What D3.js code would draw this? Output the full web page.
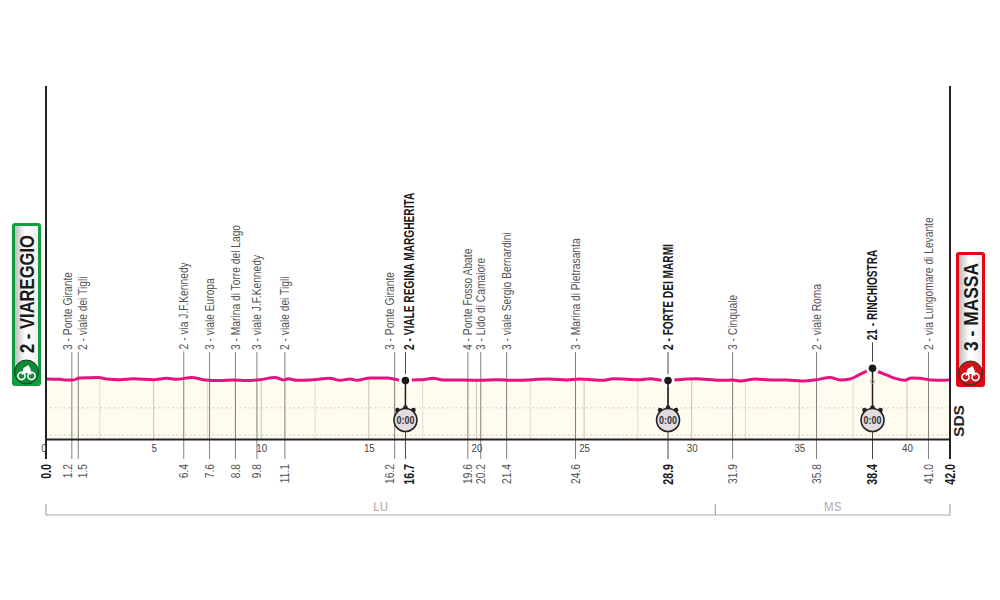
<!DOCTYPE html>
<html>
<head>
<meta charset="utf-8">
<script src="https://cdn.jsdelivr.net/npm/d3@7"></script>
<style>
  html, body { margin: 0; background: #fff; }
  svg { display: block; }
  text { font-family: "Liberation Sans Narrow", "Liberation Sans", sans-serif; }
  .place { fill: #555; font-size: 13.5px; }
  .place.main { fill: #1a1a1a; font-size: 14px; font-weight: bold; }
</style>
</head>
<body>
<svg id="chart"></svg>
<script>
// profile
const profileKm = [0, 0.65, 0.96, 1.27, 1.55, 2.43, 2.82, 3.44, 4.05, 4.98, 5.6, 6.07, 6.77, 7.3, 8.08, 8.7, 9.32, 9.94, 10.64, 11.03, 11.25, 11.65, 12.26, 13.2, 13.66, 14.13, 14.44, 15.05, 15.84, 16.37, 16.7, 17, 17.5, 18, 18.45, 19.37, 20.17, 20.95, 21.7, 22.6, 23.33, 24.2, 24.8, 25.9, 26.35, 27.6, 28.07, 28.6, 28.9, 29.2, 30.2, 31.3, 31.9, 32.25, 32.95, 33.64, 34.4, 35.1, 35.8, 36.43, 36.9, 37.4, 37.7, 38.15, 38.4, 38.6, 39.1, 39.5, 39.9, 40.2, 40.6, 41.1, 41.7, 42];
const profileElev = [4.5, 4, 3, 3, 6, 7, 4.5, 3.5, 5, 3.5, 5.6, 4, 7, 3.5, 2, 3, 2, 3.5, 7, 3, 5, 2.5, 3, 5.5, 2.5, 4.5, 2.5, 6, 6, 3, 2, 3, 3.5, 5.5, 3, 3, 2.5, 3.5, 2.5, 3.5, 4.5, 3, 4.5, 2.5, 5, 3.5, 5, 2.5, 2, 3, 5, 2.5, 3, 1.5, 4.5, 3, 3, 1.5, 3.5, 7, 3, 5, 9.7, 17, 21, 17, 10, 5, 2.5, 6, 5.5, 3, 2.5, 3.5];

// places along the route
const placeKm = [1.2, 1.5, 6.4, 7.6, 8.8, 9.8, 11.1, 16.2, 16.7, 19.6, 20.2, 21.4, 24.6, 28.9, 31.9, 35.8, 38.4, 41.0];
const placeNames = ["3 - Ponte Girante", "2 - viale dei Tigli", "2 - via J.F.Kennedy", "3 - viale Europa", "3 - Marina di Torre del Lago", "3 - viale J.F.Kennedy", "2 - viale dei Tigli", "3 - Ponte Girante", "2 - VIALE REGINA MARGHERITA", "4 - Ponte Fosso Abate", "3 - Lido di Camaiore", "3 - viale Sergio Bernardini", "3 - Marina di Pietrasanta", "2 - FORTE DEI MARMI", "3 - Cinquale", "2 - viale Roma", "21 - RINCHIOSTRA", "2 - via Lungomare di Levante"];
const timedKm = [16.7, 28.9, 38.4];

const distTicks = [0, 5, 10, 15, 20, 25, 30, 35, 40];
const gridKm = [2.5, 5, 7.5, 10, 12.5, 15, 17.5, 20, 22.5, 25, 27.5, 30, 32.5, 35, 37.5, 40];
const dottedElev = [-40, -82];
const provinces = ["LU", "MS"];
const provinceKm = [0, 31.1, 42];
const startName = "2 - VIAREGGIO";
const finishName = "3 - MASSA";

const width = 1000;
const height = 600;
const baseElev = -88;

// labels pushed sideways where two places sit too close
const labelShift = { 1.2: -4, 1.5: 4.5, 16.2: -5, 16.7: 4 };

const svg = d3.select("#chart").attr("width", width).attr("height", height);

const x = d3.scaleLinear().domain([0, 42]).range([46, 950]);
const y = d3.scaleLinear().domain([baseElev, 21]).range([439, 368.3]);
const yBase = y(baseElev);

const profile = profileKm.map((k, i) => [k, profileElev[i]]);
const elevAt = k => profile.find(p => p[0] === k)[1];

const defs = svg.append("defs");
const area = d3.area().x(d => x(d[0])).y0(yBase).y1(d => y(d[1])).curve(d3.curveMonotoneX);
const line = d3.line().x(d => x(d[0])).y(d => y(d[1])).curve(d3.curveMonotoneX);

defs.append("clipPath").attr("id", "under").append("path").attr("d", area(profile));

const grad = defs.append("linearGradient").attr("id", "badge");
grad.append("stop").attr("offset", "0").attr("stop-color", "#bdbdbd");
grad.append("stop").attr("offset", "0.45").attr("stop-color", "#fff");
grad.append("stop").attr("offset", "1").attr("stop-color", "#eee");

// area under the profile
svg.append("path").attr("d", area(profile)).attr("fill", "#fdfcee");

const under = svg.append("g").attr("clip-path", "url(#under)");
under.selectAll("line.grid").data(gridKm).enter().append("line")
  .attr("class", "grid")
  .attr("x1", d => x(d)).attr("x2", d => x(d))
  .attr("y1", 360).attr("y2", yBase)
  .attr("stroke", d => d % 5 === 0 ? "#c4c4bc" : "#dcdcd4")
  .attr("stroke-width", 1);
under.selectAll("line.dots").data(dottedElev).enter().append("line")
  .attr("class", "dots")
  .attr("x1", x(0)).attr("x2", x(42))
  .attr("y1", d => y(d)).attr("y2", d => y(d))
  .attr("stroke", "#c4c4bc")
  .attr("stroke-dasharray", "1.5 3");

// the label sits higher where the road climbs towards it
const labelBottom = k => Math.min(350, y(elevAt2(k)) - 28);
function elevAt2(k) {
  const i = d3.bisectLeft(profileKm, k);
  return profileElev[Math.min(i, profileElev.length - 1)];
}

// road lines
svg.selectAll("line.road").data(placeKm).enter().append("line")
  .attr("class", "road")
  .attr("x1", d => x(d)).attr("x2", d => x(d))
  .attr("y1", d => labelBottom(d) + 2).attr("y2", 459)
  .attr("stroke", d => timedKm.includes(d) ? "#444" : "#7f7f7f")
  .attr("stroke-width", 1);

// profile line
svg.append("path").attr("d", line(profile))
  .attr("fill", "none").attr("stroke", "#e6127f").attr("stroke-width", 3);

// frame
svg.selectAll("line.side").data([0, 42]).enter().append("line")
  .attr("class", "side")
  .attr("x1", d => x(d)).attr("x2", d => x(d))
  .attr("y1", 86).attr("y2", 459)
  .attr("stroke", "#222").attr("stroke-width", 2);

// distance axis
const axis = svg.append("g")
  .attr("transform", `translate(0, ${yBase})`)
  .call(d3.axisBottom(x).tickValues(distTicks).tickSize(0).tickPadding(3).tickFormat(d3.format("d")));
axis.select(".domain").attr("stroke", "#222").attr("stroke-width", 2);
axis.selectAll("text")
  .attr("font-size", 11.5).attr("fill", "#444").attr("y", 5)
  .attr("transform", "scale(0.85, 1)")
  .style("font-family", '"Liberation Sans Narrow", "Liberation Sans", sans-serif');
axis.selectAll(".tick").filter(d => d === 0).select("text").attr("dx", -3);

// place names and km marks
placeKm.forEach((k, i) => {
  const main = timedKm.includes(k);
  const lx = x(k) + (labelShift[k] || 0);
  svg.append("text")
    .attr("class", main ? "place main" : "place")
    .attr("transform", `translate(${lx + 4.5}, ${labelBottom(k)}) rotate(-90) scale(${main ? 0.725 : 0.76}, 1)`)
    .text(placeNames[i]);
  svg.append("text")
    .attr("class", main ? "place main" : "place")
    .attr("text-anchor", "end")
    .attr("transform", `translate(${lx + 4.5}, 464) rotate(-90) scale(0.76, 1)`)
    .text(k.toFixed(1));
});
[0, 42].forEach(k => {
  svg.append("text")
    .attr("class", "place main")
    .attr("text-anchor", "end")
    .attr("transform", `translate(${x(k) + 4.5}, 464) rotate(-90) scale(0.76, 1)`)
    .text(k.toFixed(1));
});

// timing points
timedKm.forEach(k => {
  const cx = x(k);
  const g = svg.append("g");
  g.append("circle").attr("cx", cx).attr("cy", y(elevAt(k))).attr("r", 6.5).attr("fill", "#fff");
  g.append("line").attr("x1", cx).attr("x2", cx).attr("y1", y(elevAt(k))).attr("y2", 410)
    .attr("stroke", "#222").attr("stroke-width", 1.5);
  g.append("circle").attr("cx", cx).attr("cy", y(elevAt(k))).attr("r", 3.8).attr("fill", "#1a1a1a");
  [[-8, -10], [0, -12.5], [8, -10]].forEach(o => {
    g.append("circle").attr("cx", cx + o[0]).attr("cy", 420 + o[1]).attr("r", 2.3).attr("fill", "#222");
  });
  g.append("circle").attr("cx", cx).attr("cy", 420).attr("r", 11.5)
    .attr("fill", "#e2dce2").attr("stroke", "#222").attr("stroke-width", 1.6);
  g.append("text").attr("transform", `translate(${cx}, 423.5) scale(0.85, 1)`).attr("text-anchor", "middle")
    .attr("font-size", 10.5).attr("font-weight", "bold").attr("fill", "#333").text("0:00");
});
svg.append("circle").attr("cx", x(38.4)).attr("cy", 381.5).attr("r", 2)
  .attr("fill", "none").attr("stroke", "#aaa");

// province bracket
svg.append("path")
  .attr("d", `M${x(0)},504V515H${x(42)}V504M${x(provinceKm[1])},515V504`)
  .attr("fill", "none").attr("stroke", "#aaa").attr("stroke-width", 1.2);
provinces.forEach((p, i) => {
  svg.append("text")
    .attr("transform", `translate(${x((provinceKm[i] + provinceKm[i + 1]) / 2)}, 511) scale(0.85, 1)`)
    .attr("text-anchor", "middle").attr("font-size", 13.5).attr("fill", "#aaa").text(p);
});

// start and finish badges
function badge(left, top, bottom, color, dark, name, textBottom, textLen) {
  const cx = left + 14.5;
  svg.append("rect")
    .attr("x", left).attr("y", top).attr("width", 29).attr("height", bottom - top)
    .attr("rx", 3).attr("fill", color);
  svg.append("rect")
    .attr("x", left).attr("y", bottom - 29).attr("width", 29).attr("height", 29)
    .attr("rx", 14.5).attr("fill", color);
  svg.append("rect")
    .attr("x", left + 3).attr("y", top + 3).attr("width", 23).attr("height", bottom - top - 20)
    .attr("fill", "url(#badge)");
  svg.append("text")
    .attr("transform", `translate(${cx + 7}, ${textBottom}) rotate(-90)`)
    .attr("textLength", textLen).attr("lengthAdjust", "spacingAndGlyphs")
    .attr("font-size", 19.5).attr("font-weight", "bold").attr("fill", "#1a1a1a")
    .style("font-family", '"Liberation Sans", sans-serif')
    .text(name);
  const cy = bottom - 14;
  svg.append("circle").attr("cx", cx).attr("cy", cy).attr("r", 12)
    .attr("fill", dark).attr("stroke", "#173a1f").attr("stroke-width", 1);
  [-5, 5].forEach(d => {
    svg.append("circle").attr("cx", cx + d).attr("cy", cy + 4).attr("r", 3.6)
      .attr("fill", "none").attr("stroke", "#fff").attr("stroke-width", 1.6);
  });
  svg.append("path")
    .attr("d", `M${cx - 5},${cy + 3}L${cx - 3},${cy - 4}L${cx + 2},${cy - 7}L${cx + 4},${cy - 3}L${cx + 5},${cy + 3}L${cx},${cy + 1}Z`)
    .attr("fill", "#fff");
}
badge(12, 223, 386, "#0f9d3e", "#0f8a38", startName, 353, 118);
badge(956, 252, 387, "#e30613", "#d4111b", finishName, 351, 88);

// SDS mark
svg.append("text")
  .attr("transform", "translate(964, 437) rotate(-90)")
  .attr("textLength", 32).attr("lengthAdjust", "spacingAndGlyphs")
  .attr("font-size", 14).attr("font-weight", "bold").attr("fill", "#222")
  .style("font-family", '"Liberation Sans", sans-serif')
  .text("SDS");
</script>
</body>
</html>
